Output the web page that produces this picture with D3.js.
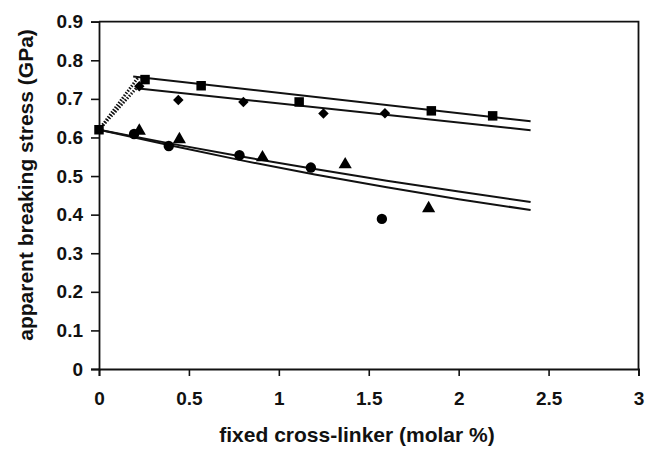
<!DOCTYPE html>
<html><head><meta charset="utf-8">
<script src="https://cdn.jsdelivr.net/npm/d3@7"></script>
<style>
html,body{margin:0;padding:0;background:#fff;}
text{font-family:"Liberation Sans",Arial,sans-serif;font-weight:bold;fill:#111;}
</style></head>
<body><svg id="c" width="645" height="450"></svg>
<script>
// ---- data ----
const xTicks = [0, 0.5, 1, 1.5, 2, 2.5, 3];
const xTickLabels = ["0", "0.5", "1", "1.5", "2", "2.5", "3"];
const yTicks = [0, 0.1, 0.2, 0.3, 0.4, 0.5, 0.6, 0.7, 0.8, 0.9];
const yTickLabels = ["0", "0.1", "0.2", "0.3", "0.4", "0.5", "0.6", "0.7", "0.8", "0.9"];
const xTitle = "fixed cross-linker (molar %)";
const yTitle = "apparent breaking stress (GPa)";

const squaresX = [0, 0.256, 0.568, 1.113, 1.848, 2.189];
const squaresY = [0.62, 0.750, 0.734, 0.692, 0.669, 0.656];
const diamondsX = [0.224, 0.441, 0.803, 1.248, 1.59];
const diamondsY = [0.733, 0.697, 0.692, 0.662, 0.663];
const circlesX = [0.195, 0.388, 0.781, 1.178, 1.573];
const circlesY = [0.609, 0.578, 0.554, 0.522, 0.389];
const trianglesX = [0.224, 0.447, 0.909, 1.369, 1.833];
const trianglesY = [0.617, 0.595, 0.548, 0.530, 0.416];

// fitted trend lines
const fitSqX = [0.19, 2.4];
const fitSqY = [0.758, 0.642];
const fitDiX = [0.22, 2.4];
const fitDiY = [0.727, 0.619];
const fitLoX = [0, 0.4, 0.8, 1.2, 1.6, 2.0, 2.4];
const fitLoAY = [0.62, 0.584, 0.550, 0.518, 0.488, 0.460, 0.433];
const fitLoBY = [0.62, 0.579, 0.540, 0.504, 0.471, 0.440, 0.412];
// dotted connectors from the origin point
const dotSqX = [0, 0.22];
const dotSqY = [0.62, 0.757];
const dotDiX = [0, 0.21];
const dotDiY = [0.62, 0.729];

// ---- drawing ----
const svg = d3.select("#c");
const L = 99, R = 638.5, T = 21.7, B = 369;
const x = d3.scaleLinear().domain([0, 3]).range([L, R]);
const y = d3.scaleLinear().domain([0, 0.9]).range([B, T]);
const zip = (xs, ys) => xs.map((v, i) => [v, ys[i]]);
const line = d3.line().x(d => x(d[0])).y(d => y(d[1]));
const curve = d3.line().x(d => x(d[0])).y(d => y(d[1])).curve(d3.curveMonotoneX);
const FONT = '"Liberation Sans",Arial,sans-serif';

// frame top & right
svg.append("path")
  .attr("d", `M${x(0)},${y(0.9)}H${x(3)}V${y(0)}`)
  .attr("fill", "none").attr("stroke", "#111").attr("stroke-width", 1.8);

const gx = svg.append("g").attr("transform", `translate(0,${B})`)
  .call(d3.axisBottom(x).tickValues(xTicks).tickSize(7).tickPadding(16)
    .tickFormat((d, i) => xTickLabels[i]));
const gy = svg.append("g").attr("transform", `translate(${L},0)`)
  .call(d3.axisLeft(y).tickValues(yTicks).tickSize(8).tickPadding(8)
    .tickFormat((d, i) => yTickLabels[i]));
[gx, gy].forEach(g => {
  g.select(".domain").attr("stroke", "#111").attr("stroke-width", 1.8);
  g.selectAll(".tick line").attr("stroke", "#111").attr("stroke-width", 1.6);
  g.selectAll(".tick text").style("font-size", "19px").style("font-family", FONT)
    .style("font-weight", "bold").attr("fill", "#111");
});

// lines
const plotLine = (pts, gen, opts) => svg.append("path").datum(pts).attr("d", gen)
  .attr("fill", "none").attr("stroke", "#111").attr("stroke-width", opts.w)
  .attr("stroke-dasharray", opts.dash || null);
plotLine(zip(dotSqX, dotSqY), line, {w: 3, dash: "1.5,1.5"});
plotLine(zip(dotDiX, dotDiY), line, {w: 3, dash: "1.5,1.5"});
plotLine(zip(fitSqX, fitSqY), line, {w: 2});
plotLine(zip(fitDiX, fitDiY), line, {w: 2});
plotLine(zip(fitLoX, fitLoAY), curve, {w: 2});
plotLine(zip(fitLoX, fitLoBY), curve, {w: 2});

// markers
const sym = (type, size) => d3.symbol().type(type).size(size);
const drawPts = (xs, ys, gen, rot) => svg.append("g").selectAll("path")
  .data(zip(xs, ys)).join("path")
  .attr("d", gen)
  .attr("transform", d => `translate(${x(d[0])},${y(d[1])})` + (rot ? ` rotate(${rot})` : ""))
  .attr("fill", "#000");
drawPts(circlesX, circlesY, sym(d3.symbolCircle, 85));
drawPts(trianglesX, trianglesY, sym(d3.symbolTriangle, 75));
drawPts(diamondsX, diamondsY, sym(d3.symbolSquare, 55), 45);
drawPts(squaresX, squaresY, sym(d3.symbolSquare, 90));

// titles
svg.append("text").attr("x", 357).attr("y", 442).attr("text-anchor", "middle")
  .style("font-size", "21px").style("font-family", FONT).text(xTitle);
svg.append("text").attr("transform", "translate(33,185) rotate(-90)").attr("text-anchor", "middle")
  .style("font-size", "21px").style("font-family", FONT).text(yTitle);
</script></body></html>
